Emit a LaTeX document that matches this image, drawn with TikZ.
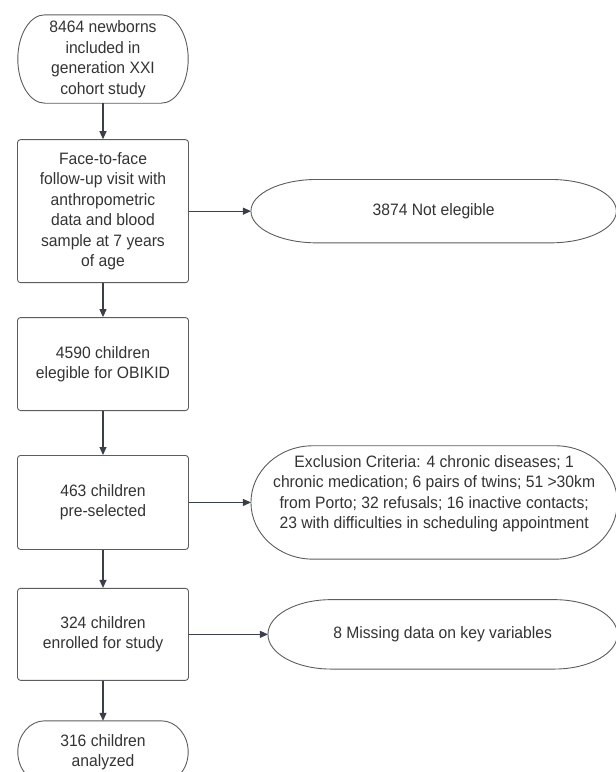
\documentclass[tikz,border=0pt]{standalone}
\usepackage{fontspec}
\setmainfont{Liberation Sans}[FakeStretch=0.95]
\usetikzlibrary{arrows.meta,calc,positioning}
\definecolor{FlowText}{RGB}{51,51,51}
\definecolor{FlowLine}{RGB}{92,92,92}
\definecolor{FlowArrow}{RGB}{58,63,74}
% outline with elliptical ends around a (borderless) node
\newcommand{\termframe}[2]{%
  \draw[termline] let \p1=(#1.north), \p2=(#1.south), \n1={(\y1-\y2)/2} in
    ([xshift=#2]#1.north west) -- ([xshift=-#2]#1.north east)
    arc[start angle=90, end angle=-90, x radius=#2, y radius=\n1]
    -- ([xshift=#2]#1.south west)
    arc[start angle=270, end angle=90, x radius=#2, y radius=\n1] -- cycle;}

\begin{document}
\begin{tikzpicture}[x=1pt, y=1pt,
    every node/.style={font=\fontsize{16.5}{20.5}\selectfont, text=FlowText},
    flowbox/.style={draw=FlowLine, line width=0.9pt, rounded corners=3pt,
        minimum width=171pt, align=center},
    term/.style={minimum width=170pt, minimum height=88pt, align=center},
    side/.style={minimum height=63pt, align=center},
    termline/.style={draw=FlowLine, line width=0.9pt},
    flow/.style={draw=FlowArrow, line width=1.2pt, -{Triangle[length=8pt, width=7pt]}},
    sideflow/.style={draw=FlowArrow, line width=0.9pt, -{Triangle[length=8pt, width=7pt]}}]
\useasboundingbox (0,0) rectangle (616,-772);
\clip (0,0) rectangle (616,-772);
% main column
\node[term] (start) at (103,-59) {8464 newborns\\included in\\generation XXI\\cohort study};
\node[flowbox, minimum height=143pt, below=36pt of start] (visit)
    {Face-to-face\\follow-up visit with\\anthropometric\\data and blood\\sample at 7 years\\of age};
\node[flowbox, minimum height=93pt, below=34pt of visit] (elig) {4590 children\\elegible for OBIKID};
\node[flowbox, minimum height=94pt, below=44pt of elig] (presel) {463 children\\pre-selected};
\node[flowbox, minimum height=92pt, below=38pt of presel] (enrol) {324 children\\enrolled for study};
\node[term, minimum height=62pt, below=40pt of enrol] (analysed) {316 children\\analyzed};
% exclusions
\node[side, minimum width=365pt, right=62pt of visit] (notelig) {3874 Not elegible};
\node[side, minimum width=366pt, minimum height=113pt, right=62pt of presel] (excl)
    {Exclusion Criteria: 4 chronic diseases; 1\\chronic medication; 6 pairs of twins; 51 >30km\\from Porto; 32 refusals; 16 inactive contacts;\\23 with difficulties in scheduling appointment\\[0pt]{}};
\node[side, minimum width=349pt, minimum height=69pt, right=79pt of enrol] (missing) {8 Missing data on key variables};
\termframe{start}{27pt}
\termframe{analysed}{27pt}
\termframe{notelig}{66pt}
\termframe{excl}{62pt}
\termframe{missing}{63pt}
\draw[flow] (start) -- (visit);
\draw[flow] (visit) -- (elig);
\draw[flow] (elig) -- (presel);
\draw[flow] (presel) -- (enrol);
\draw[flow] (enrol) -- (analysed);
\draw[sideflow] (visit) -- (notelig);
\draw[sideflow] (presel) -- (excl);
\draw[sideflow] (enrol) -- (missing);
\end{tikzpicture}
\end{document}
